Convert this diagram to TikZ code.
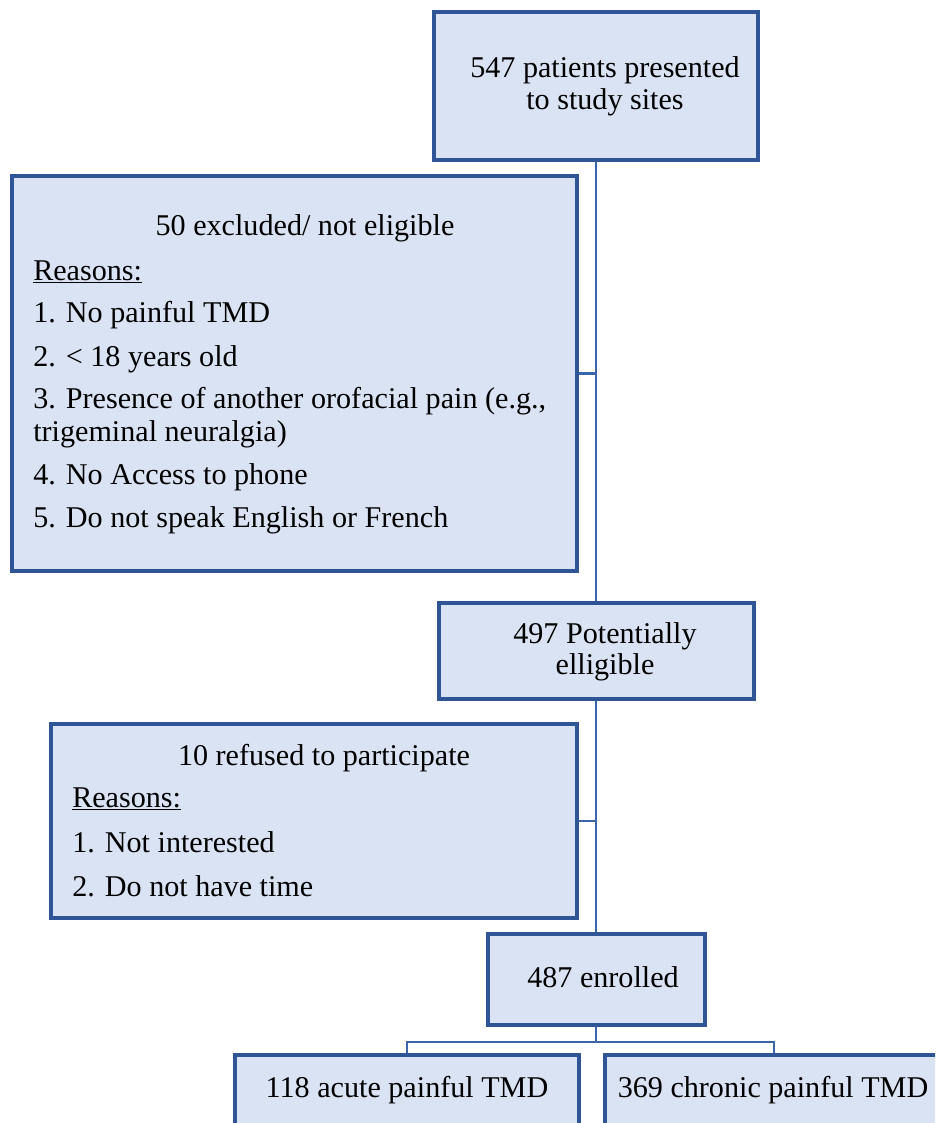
\documentclass[tikz,border=0pt]{standalone}
\usepackage{fontspec}
\setmainfont{Liberation Serif}
\definecolor{boxfill}{HTML}{DAE3F3}
\definecolor{boxline}{HTML}{2F5597}
\definecolor{conline}{HTML}{3A64AC}
\begin{document}
\begin{tikzpicture}[x=0.75pt,y=-0.75pt,
  flowbox/.style={draw=boxline,fill=boxfill,line width=3pt,rectangle,inner sep=0pt},
  txt/.style={inner sep=0pt,font=\fontsize{22.6}{27}\selectfont,text=black},
  ctxt/.style={txt,anchor=base},
  ltxt/.style={txt,anchor=base west},
  conn/.style={draw=conline,line width=1.6pt}]
\useasboundingbox (0,0) rectangle (935,1123);
\clip (0,0) rectangle (935,1123);
\fill[white] (0,0) rectangle (935,1123);
% boxes
\node[flowbox,minimum width=243pt,minimum height=111pt] (b1) at (596,86) {};
\node[flowbox,minimum width=423.75pt,minimum height=296.25pt] (b2) at (294.5,373.5) {};
\node[flowbox,minimum width=236.25pt,minimum height=72pt] (b3) at (596,651) {};
\node[flowbox,minimum width=394.5pt,minimum height=145.5pt] (b4) at (314,821) {};
\node[flowbox,minimum width=162.75pt,minimum height=68.25pt] (b5) at (596,979.5) {};
\node[flowbox,minimum width=258pt,minimum height=63.75pt] (b6) at (407,1097.5) {};
\node[flowbox,minimum width=253.5pt,minimum height=63.75pt] (b7) at (774,1097.5) {};
% connectors
\draw[conn] (b1.south) -- (b3.north);
\draw[conn] (b2.east) -- (b2.east -| b1.south);
\draw[conn] (b3.south) -- (b5.north);
\draw[conn] (b4.east) -- (b4.east -| b3.south);
\coordinate (br) at (596,1042);
\draw[conn] (b5.south) -- (br);
\draw[conn] (b6.north) |- (br) -| (b7.north);
% texts
\node[ctxt] (t1a) at (605,78) {547 patients presented};
\node[ctxt] (t1b) at (605,110) {to study sites};
\node[ctxt] (t2) at (305,235) {50 excluded/ not eligible};
\node[ltxt] (t2r) at (33,280) {\underline{Reasons:}};
\node[ltxt] (t21) at (33,322) {1. No painful TMD};
\node[ltxt] (t22) at (33,366) {2. < 18 years old};
\node[ltxt] (t23) at (33,408) {3. Presence of another orofacial pain (e.g.,};
\node[ltxt] (t23b) at (33,441) {trigeminal neuralgia)};
\node[ltxt] (t24) at (33,484) {4. No Access to phone};
\node[ltxt] (t25) at (33,527) {5. Do not speak English or French};
\node[ctxt] (t3a) at (605,643) {497 Potentially};
\node[ctxt] (t3b) at (605,674) {elligible};
\node[ctxt] (t4) at (324,765) {10 refused to participate};
\node[ltxt] (t4r) at (72,807) {\underline{Reasons:}};
\node[ltxt] (t41) at (72,852) {1. Not interested};
\node[ltxt] (t42) at (72,896) {2. Do not have time};
\node[ctxt] (t5) at (603,987) {487 enrolled};
\node[ctxt] (t6) at (407,1097) {118 acute painful TMD};
\node[ctxt] (t7) at (773,1097) {369 chronic painful TMD};
\end{tikzpicture}
\end{document}
